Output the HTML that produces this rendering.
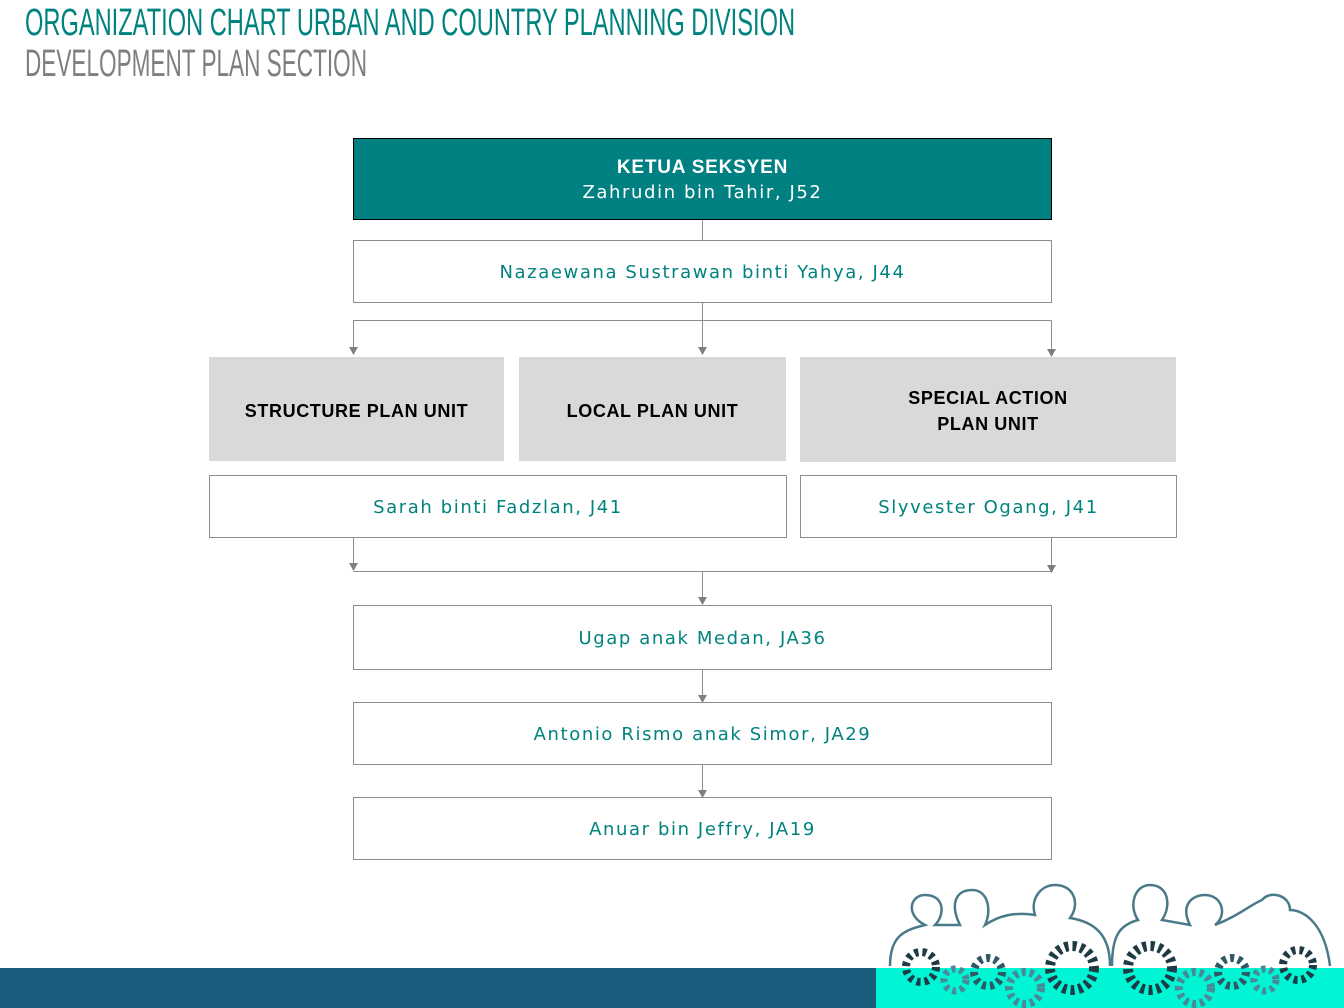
<!DOCTYPE html>
<html><head><style>
body{margin:0;width:1344px;height:1008px;position:relative;background:#fff;overflow:hidden;font-family:"DejaVu Sans","Liberation Sans",sans-serif}
.b{position:absolute;box-sizing:border-box;border:1px solid #8c8c8c;background:#fff;display:flex;align-items:center;justify-content:center;color:#00827f;font-size:18px;letter-spacing:1.6px;text-align:center;padding-top:2px}
.g{position:absolute;background:#d9d9d9;display:flex;align-items:center;justify-content:center;font-family:"Liberation Sans",sans-serif;font-weight:bold;font-size:18px;letter-spacing:0.6px;color:#000;text-align:center;line-height:26px;box-sizing:border-box;padding-top:3px}
.t{position:absolute;left:25px;font-family:"Liberation Sans",sans-serif;transform-origin:left top;white-space:nowrap}
</style></head><body>
<div class="t" style="top:2px;font-size:38px;color:#00827f;transform:scaleX(0.622)">ORGANIZATION CHART URBAN AND COUNTRY PLANNING DIVISION</div>
<div class="t" style="top:43px;font-size:38px;color:#7f7f7f;transform:scaleX(0.594)">DEVELOPMENT PLAN SECTION</div>

<div class="b" style="left:353px;top:138px;width:699px;height:82px;background:#008080;border-color:#000;color:#fff;flex-direction:column;line-height:25px"><b style="font-family:'Liberation Sans',sans-serif;font-size:19px;letter-spacing:0.8px">KETUA SEKSYEN</b><span>Zahrudin bin Tahir, J52</span></div>
<div class="b" style="left:353px;top:240px;width:699px;height:63px">Nazaewana Sustrawan binti Yahya, J44</div>
<div class="g" style="left:209px;top:357px;width:295px;height:104px">STRUCTURE PLAN UNIT</div>
<div class="g" style="left:519px;top:357px;width:267px;height:104px">LOCAL PLAN UNIT</div>
<div class="g" style="left:800px;top:357px;width:376px;height:105px">SPECIAL ACTION<br>PLAN UNIT</div>
<div class="b" style="left:209px;top:475px;width:578px;height:63px">Sarah binti Fadzlan, J41</div>
<div class="b" style="left:800px;top:475px;width:377px;height:63px">Slyvester Ogang, J41</div>
<div class="b" style="left:353px;top:605px;width:699px;height:65px">Ugap anak Medan, JA36</div>
<div class="b" style="left:353px;top:702px;width:699px;height:63px">Antonio Rismo anak Simor, JA29</div>
<div class="b" style="left:353px;top:797px;width:699px;height:63px">Anuar bin Jeffry, JA19</div>

<svg width="1344" height="1008" style="position:absolute;left:0;top:0" fill="none">
<g stroke="#8c8c8c" stroke-width="1">
<path d="M702.5 220V240"/>
<path d="M702.5 303V320.5M353.5 320.5H1051.5"/>
<path d="M353.5 320.5V349M702.5 320.5V349M1051.5 320.5V351"/>
<path d="M353.5 538V565M1051.5 538V567M353.5 571.5H1051.5M702.5 571.5V599"/>
<path d="M702.5 670V697M702.5 765V792"/>
</g>
<g fill="#7f7f7f">
<path d="M349 347h9l-4.5 8z"/><path d="M698 347h9l-4.5 8z"/><path d="M1047 349h9l-4.5 8z"/>
<path d="M349 563h9l-4.5 8z"/><path d="M1047 565h9l-4.5 8z"/><path d="M698 597h9l-4.5 8z"/>
<path d="M698 695h9l-4.5 8z"/><path d="M698 790h9l-4.5 8z"/>
</g>
<rect x="0" y="968" width="876" height="40" fill="#1a5c7c"/>
<rect x="876" y="968" width="468" height="40" fill="#00f5d4"/>
<g stroke="#4a7a8a" stroke-width="2.5">
<path d="M890 966 C890 935 905 930 925 925 C905 915 910 895 925 895 C945 895 945 915 935 925 L960 925 C950 905 955 890 972 890 C988 890 992 910 985 925 C1000 915 1015 912 1035 915 C1030 900 1040 885 1055 885 C1075 885 1080 905 1070 918 C1095 922 1110 935 1110 966"/>
<path d="M1112 966 C1112 935 1120 925 1138 920 C1128 905 1135 885 1150 885 C1168 885 1172 905 1162 920 L1190 925 C1180 905 1192 895 1205 895 C1222 895 1228 915 1215 925 C1240 915 1250 905 1262 900 C1270 890 1290 895 1290 910 C1305 910 1325 925 1330 966"/>
</g>
<g stroke-dasharray="4 4">
<circle cx="921" cy="967" r="15" stroke="#1e3a44" stroke-width="8"/>
<circle cx="955" cy="980" r="11" stroke="#4a8898" stroke-width="7"/>
<circle cx="988" cy="972" r="14" stroke="#2f5866" stroke-width="8"/>
<circle cx="1025" cy="988" r="16" stroke="#4a8898" stroke-width="8"/>
<circle cx="1072" cy="968" r="22" stroke="#1e3a44" stroke-width="10"/>
<circle cx="1150" cy="968" r="22" stroke="#1e3a44" stroke-width="10"/>
<circle cx="1195" cy="988" r="16" stroke="#4a8898" stroke-width="8"/>
<circle cx="1232" cy="972" r="14" stroke="#2f5866" stroke-width="8"/>
<circle cx="1265" cy="980" r="11" stroke="#4a8898" stroke-width="7"/>
<circle cx="1298" cy="965" r="15" stroke="#1e3a44" stroke-width="8"/>
</g>
</svg>
</body></html>
